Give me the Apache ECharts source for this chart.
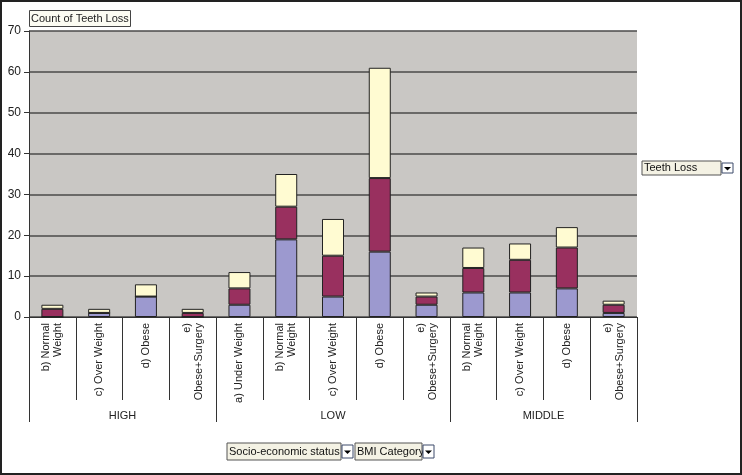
<!DOCTYPE html>
<html>
<head>
<meta charset="utf-8">
<script src="https://cdn.jsdelivr.net/npm/echarts@6/dist/echarts.min.js"></script>
<style>
  html, body { margin: 0; padding: 0; background: #fff; }
  #chart { width: 742px; height: 475px; }
</style>
</head>
<body>
<div id="chart"></div>
<script>
// BMI categories (inner axis) and socio-economic groups (outer axis)
var categories = [
    'b) Normal\nWeight', 'c) Over Weight', 'd) Obese', 'e)\nObese+Surgery',
    'a) Under Weight', 'b) Normal\nWeight', 'c) Over Weight', 'd) Obese', 'e)\nObese+Surgery',
    'b) Normal\nWeight', 'c) Over Weight', 'd) Obese', 'e)\nObese+Surgery'
];
var groups = ['HIGH', 'LOW', 'MIDDLE'];
var groupSizes = [4, 5, 4];

// stacked counts (bottom -> top)
var lossBlue  = [0, 1, 5, 0, 3, 19, 5, 16, 3, 6, 6, 7, 1];
var lossRed   = [2, 0, 0, 1, 4, 8, 10, 18, 2, 6, 8, 10, 2];
var lossCream = [1, 1, 3, 1, 4, 8, 9, 27, 1, 5, 4, 5, 1];

var yTicks = [0, 10, 20, 30, 40, 50, 60, 70];

// boundaries and centres of the outer groups, in category units
var groupEdges = [0];
var groupCentres = [];
groupSizes.forEach(function (n) {
    var start = groupEdges[groupEdges.length - 1];
    groupEdges.push(start + n);
    groupCentres.push(start + n / 2);
});

var FONT = 'Liberation Sans, Arial, sans-serif';

function dropdown(x, y, w, h, label) {
    // excel style page-field button: text box w wide, arrow button after it
    return {
        type: 'group',
        x: x, y: y,
        children: [
            { type: 'rect', shape: { x: 0, y: 0, width: w, height: h },
              style: { fill: '#f4f2e4', stroke: '#555', lineWidth: 1 } },
            { type: 'text', x: 2, y: h / 2,
              style: { text: label, font: '11px ' + FONT, fill: '#111', verticalAlign: 'middle' } },
            { type: 'rect', shape: { x: w + 1, y: 2, width: 11, height: h - 4 },
              style: { fill: '#fff', stroke: '#3c4a6a', lineWidth: 1 } },
            { type: 'polygon', shape: { points: [[w + 3, h / 2 - 1], [w + 10, h / 2 - 1], [w + 6.5, h / 2 + 2.5]] },
              style: { fill: '#000' } }
        ]
    };
}

var chart = echarts.init(document.getElementById('chart'));

var option = {
    backgroundColor: '#fff',
    animation: false,
    title: {
        text: 'Count of Teeth Loss',
        left: 29,
        top: 10,
        padding: [3, 2],
        backgroundColor: '#fcfcf2',
        borderColor: '#444',
        borderWidth: 1,
        textStyle: { fontFamily: FONT, fontSize: 11, fontWeight: 'normal', color: '#222' }
    },
    grid: {
        left: 29,
        right: 105,
        top: 31,
        bottom: 158,
        show: true,
        backgroundColor: '#c9c7c4',
        borderWidth: 0
    },
    xAxis: [
        {
            type: 'category',
            data: categories,
            position: 'bottom',
            axisLine: { show: true, lineStyle: { color: '#333', width: 1 } },
            axisTick: { show: true, interval: 0, alignWithLabel: false, length: 83,
                        lineStyle: { color: '#333' } },
            axisLabel: { interval: 0, rotate: 90, margin: 6, fontFamily: FONT, fontSize: 11,
                         lineHeight: 12, color: '#222' }
        },
        {
            type: 'value',
            position: 'bottom',
            min: 0,
            max: categories.length,
            axisLine: { show: false },
            splitLine: { show: false },
            axisTick: { show: true, customValues: groupEdges, length: 105, inside: false,
                        lineStyle: { color: '#333' } },
            axisLabel: {
                customValues: groupCentres,
                margin: 93,
                fontFamily: FONT, fontSize: 11, color: '#222',
                formatter: function (v) {
                    return groups[groupCentres.indexOf(v)] || '';
                }
            }
        }
    ],
    yAxis: {
        type: 'value',
        min: yTicks[0],
        max: yTicks[yTicks.length - 1],
        interval: 10,
        axisLine: { show: true, lineStyle: { color: '#333' } },
        axisTick: { show: true, length: 5, lineStyle: { color: '#333' } },
        axisLabel: { margin: 8, fontFamily: FONT, fontSize: 12, color: '#222' },
        splitLine: { show: true, lineStyle: { color: '#4a4a4a', width: 1.5 } }
    },
    series: [
        { name: 'Teeth Loss A', type: 'bar', stack: 'loss', data: lossBlue, barWidth: 22,
          itemStyle: { color: '#9c99cf', borderColor: '#222', borderWidth: 1 } },
        { name: 'Teeth Loss B', type: 'bar', stack: 'loss', data: lossRed, barWidth: 22,
          itemStyle: { color: '#99305f', borderColor: '#222', borderWidth: 1 } },
        { name: 'Teeth Loss C', type: 'bar', stack: 'loss', data: lossCream, barWidth: 22,
          itemStyle: { color: '#fffbd2', borderColor: '#222', borderWidth: 1 } }
    ],
    graphic: [
        { type: 'rect', shape: { x: 1, y: 1, width: 740, height: 473 },
          style: { fill: null, stroke: '#222', lineWidth: 2 }, z: 100 },
        dropdown(642, 161, 79, 14, 'Teeth Loss'),
        dropdown(227, 443, 114, 17, 'Socio-economic status'),
        dropdown(355, 443, 67, 17, 'BMI Category')
    ]
};

chart.setOption(option);
</script>
</body>
</html>
